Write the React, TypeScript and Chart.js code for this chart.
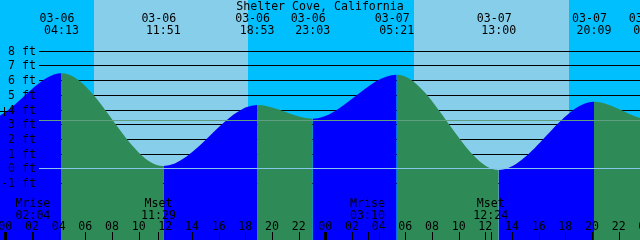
import React, { useEffect, useRef } from "react";
import { Chart, registerables } from "chart.js";

Chart.register(...registerables);

// ---- data ----
const TITLE = "Shelter Cove, California";

// tide extremes (hours from 03-06 00:00, feet); first/last two lie outside the view
const tideHours = [-7.6, -1.43, 4.217, 11.85, 18.883, 23.05, 29.35, 37.0, 44.15, 48.4, 54.8];
const tideFeet = [4.4, 3.35, 6.5, 0.19, 4.34, 3.41, 6.4, -0.08, 4.56, 3.35, 6.3];

// labelled extremes at the top
const eventHours = [4.217, 11.85, 18.883, 23.05, 29.35, 37.0, 44.15, 48.4];
const eventDates = ["03-06", "03-06", "03-06", "03-06", "03-07", "03-07", "03-07", "03-08"];
const eventTimes = ["04:13", "11:51", "18:53", "23:03", "05:21", "13:00", "20:09", "00:24"];

// daylight bands
const sunriseHours = [6.65, 30.65];
const sunsetHours = [18.23, 42.28];

// moon events
const moonHours = [2.067, 11.483, 27.167, 36.4];
const moonNames = ["Mrise", "Mset", "Mrise", "Mset"];
const moonTimes = ["02:04", "11:29", "03:10", "12:24"];

// axes
const footTicks = [-1, 0, 1, 2, 3, 4, 5, 6, 7, 8];
const footLabels = ["-1 ft", "0 ft", "1 ft", "2 ft", "3 ft", "4 ft", "5 ft", "6 ft", "7 ft", "8 ft"];
const hourTicks = [0, 2, 4, 6, 8, 10, 12, 14, 16, 18, 20, 22, 24, 26, 28, 30, 32, 34, 36, 38, 40, 42, 44, 46, 48];
const hourLabels = ["00", "02", "04", "06", "08", "10", "12", "14", "16", "18", "20", "22", "00", "02", "04", "06", "08", "10", "12", "14", "16", "18", "20", "22", "00"];
const midnightHours = [0, 24, 48];
const meanLevel = 3.29;

const X_MIN = -0.4;
const X_MAX = 47.6;
const Y_MIN = -4.844;
const Y_MAX = 11.483;

// ---- styles ----
const NIGHT = "#00BFFF";
const DAY = "#87CEEB";
const FLOOD = "#0000FF";
const EBB = "#2E8B57";
const MSL_COLOR = "#60A080";
const DATUM_COLOR = "#86C6EC";
const FONT = '11.6px "DejaVu Sans Mono", "Liberation Mono", monospace';

const decorPlugin = {
  id: "tideDecor",
  beforeDraw(chart: any) {
    const { ctx, width, height } = chart;
    const xs = chart.scales.x;
    const ys = chart.scales.y;
    ctx.save();
    ctx.fillStyle = NIGHT;
    ctx.fillRect(0, 0, width, height);
    ctx.fillStyle = DAY;
    sunriseHours.forEach((sr, i) => {
      const a = Math.round(xs.getPixelForValue(sr));
      const b = Math.round(xs.getPixelForValue(sunsetHours[i]));
      ctx.fillRect(a, 0, b - a, height);
    });
    ctx.fillStyle = "#000";
    footTicks.forEach((f) => {
      const py = Math.floor(ys.getPixelForValue(f) + 0.01);
      ctx.fillRect(39, py, width - 39, 1);
    });
    ctx.restore();
  },
  afterDatasetsDraw(chart: any) {
    const { ctx, width, height } = chart;
    const xs = chart.scales.x;
    const ys = chart.scales.y;
    ctx.save();
    // mean sea level and datum lines
    ctx.fillStyle = MSL_COLOR;
    ctx.fillRect(39, Math.floor(ys.getPixelForValue(meanLevel)), width - 39, 1);
    ctx.fillStyle = DATUM_COLOR;
    ctx.fillRect(39, Math.floor(ys.getPixelForValue(0) + 0.01), width - 39, 1);

    ctx.font = FONT;
    ctx.fillStyle = "#000";
    ctx.textBaseline = "alphabetic";

    // foot labels
    ctx.textAlign = "right";
    footTicks.forEach((f, i) => {
      const py = Math.floor(ys.getPixelForValue(f) + 0.01);
      ctx.fillText(footLabels[i], 36, py + 4);
    });
    // small cross at the left
    ctx.fillRect(0, 111, 8, 1);
    ctx.fillRect(4, 107, 1, 9);

    // title
    ctx.textAlign = "center";
    ctx.fillText(TITLE, 320, 10);

    // extreme labels
    eventHours.forEach((h, i) => {
      const px = xs.getPixelForValue(h);
      ctx.fillText(eventDates[i], px - 4.5, 22);
      ctx.fillText(eventTimes[i], px, 34);
    });

    // moon events
    moonHours.forEach((h, i) => {
      const px = xs.getPixelForValue(h);
      ctx.fillText(moonNames[i], px, 206.5);
      ctx.fillText(moonTimes[i], px, 218.5);
      ctx.fillRect(Math.round(px), 232, 1, 8);
    });

    // hour ticks
    hourTicks.forEach((h, i) => {
      const px = xs.getPixelForValue(h);
      ctx.fillText(hourLabels[i], px, 229.5);
      if (midnightHours.includes(h)) {
        ctx.fillRect(Math.round(px) - 1, 232, 3, 8);
      } else {
        ctx.fillRect(Math.round(px), 232, 1, 8);
      }
    });
    ctx.restore();
  },
};

export default function App() {
  const ref = useRef<HTMLCanvasElement>(null);
  useEffect(() => {
    const chart = new Chart(ref.current as HTMLCanvasElement, {
      type: "line",
      data: {
        datasets: [
          {
            data: tideHours.map((h, i) => ({ x: h, y: tideFeet[i] })),
            fill: "start",
            cubicInterpolationMode: "monotone",
            pointRadius: 0,
            borderWidth: 0,
            borderColor: "rgba(0,0,0,0)",
            backgroundColor: FLOOD,
            segment: {
              backgroundColor: (c: any) => (c.p1.parsed.y > c.p0.parsed.y ? FLOOD : EBB),
            },
          } as any,
        ],
      },
      options: {
        responsive: false,
        animation: false,
        events: [],
        layout: { padding: 0 },
        scales: {
          x: { type: "linear", min: X_MIN, max: X_MAX, display: false },
          y: { type: "linear", min: Y_MIN, max: Y_MAX, display: false },
        },
        plugins: {
          legend: { display: false },
          tooltip: { enabled: false },
          title: { display: false },
        },
      },
      plugins: [decorPlugin],
    });
    return () => chart.destroy();
  }, []);
  return (
    <div style={{ position: "absolute", left: 0, top: 0, width: 640, height: 240 }}>
      <canvas ref={ref} width={640} height={240} style={{ display: "block" }} />
    </div>
  );
}
